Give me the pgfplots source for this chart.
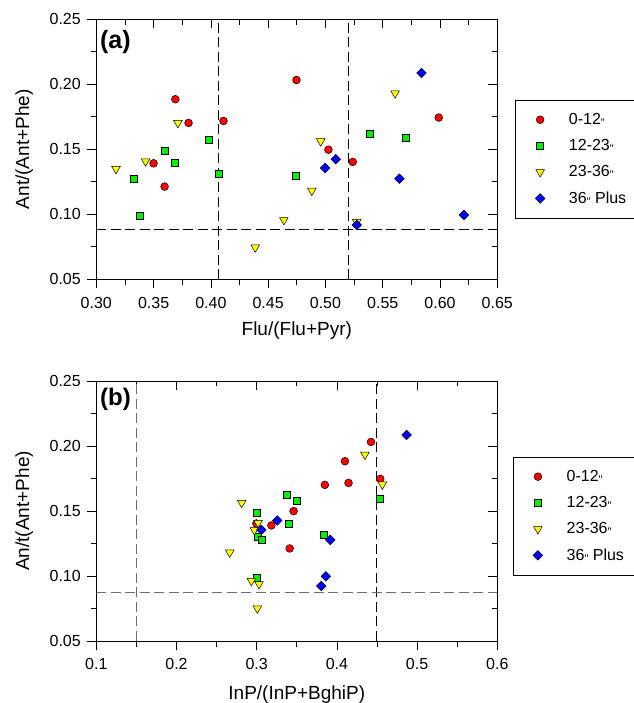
\documentclass[border=0pt]{standalone}
\usepackage{pgfplots}
\pgfplotsset{compat=1.18}
\usepackage{fontspec}
\setmainfont{Liberation Sans}

\definecolor{cred}{RGB}{255,0,0}
\definecolor{cgreen}{RGB}{0,240,0}
\definecolor{cyellow}{RGB}{255,255,0}
\definecolor{cblue}{RGB}{0,0,255}
\definecolor{refgray}{RGB}{110,110,110}

\newcommand{\inch}{\raisebox{-2pt}{\fontsize{11}{11}\selectfont\textquotedbl}}

\pgfplotsset{
  panel/.style={
    scale only axis, width=401pt, height=260pt,
    axis line style={line width=0.8pt},
    every tick/.style={black, line width=0.7pt},
    major tick length=9pt, minor tick length=5.5pt,
    minor tick num=1,
    tick label style={font=\fontsize{16}{16}\selectfont},
    label style={font=\fontsize{19}{19}\selectfont},
    /pgf/number format/assume math mode=true,
  },
  inner/.style={panel, tick align=inside, xtick pos=upper, ytick pos=right,
    xticklabels={}, yticklabels={}},
  s0/.style={only marks, mark=*, mark size=3.9pt,
    mark options={fill=cred, draw=black, line width=0.5pt}},
  s1/.style={only marks, mark=square*, mark size=3.5pt,
    mark options={fill=cgreen, draw=black, line width=0.5pt}},
  s2/.style={only marks, mark=triangle*, mark size=5pt,
    mark options={fill=cyellow, draw=black, line width=0.5pt, rotate=180}},
  s3/.style={only marks, mark=square*, mark size=3.4pt,
    mark options={fill=cblue, draw=black, line width=0.5pt, rotate=45}},
  refl/.style={forget plot, line width=0.9pt, dash pattern=on 10pt off 4.5pt},
  leg/.style={legend style={at={(axis description cs:#1)}, anchor=north west,
    draw=black, line width=0.8pt, font=\fontsize{16}{16}\selectfont,
    inner xsep=20pt, inner ysep=11pt, row sep=9.5pt,
    /tikz/every odd column/.append style={column sep=22pt}},
    legend cell align=left},
}

\begin{document}
\begin{tikzpicture}
\useasboundingbox (0,0) rectangle (633pt,703pt);

% ---------- (a) ----------
\begin{axis}[inner, at={(96.3pt,423.7pt)}, anchor=south west,
  xmin=0.30, xmax=0.65, ymin=0.05, ymax=0.25,
  xtick={0.30,0.35,...,0.65}, ytick={0.05,0.10,...,0.25}]
\end{axis}
\begin{axis}[panel, at={(96.3pt,423.7pt)}, anchor=south west,
  tick align=outside, xtick pos=lower, ytick pos=left,
  xmin=0.30, xmax=0.65, ymin=0.05, ymax=0.25,
  xtick={0.30,0.35,...,0.65}, ytick={0.05,0.10,...,0.25},
  xticklabel style={yshift=-5pt, /pgf/number format/.cd, fixed, fixed zerofill, precision=2},
  yticklabel style={xshift=-3pt, /pgf/number format/.cd, fixed, fixed zerofill, precision=2},
  xlabel={Flu/(Flu+Pyr)}, ylabel={Ant/(Ant+Phe)},
  xlabel style={at={(axis description cs:0.5,-0.218)}, anchor=base},
  ylabel style={at={(axis description cs:-0.18,0.5)}, anchor=center},
  leg={1.044,0.6896}]

  \addplot[refl] coordinates {(0.407,0.05) (0.407,0.25)};
  \addplot[refl] coordinates {(0.5203,0.05) (0.5203,0.25)};
  \addplot[refl] coordinates {(0.30,0.088) (0.65,0.088)};

  \addplot[s0] coordinates {
    (0.369,0.1885) (0.3805,0.1703) (0.411,0.1718) (0.350,0.1392) (0.3596,0.1213)
    (0.4747,0.2033) (0.5026,0.1497) (0.5238,0.1403) (0.5989,0.1744)};
  \addlegendentry{0-12\inch}
  \addplot[s1] coordinates {
    (0.3326,0.1272) (0.3381,0.0990) (0.3596,0.1485) (0.3683,0.1400) (0.3983,0.1577)
    (0.4067,0.1313) (0.4738,0.1300) (0.539,0.1623) (0.5703,0.1592)};
  \addlegendentry{12-23\inch}
  \addplot[s2] coordinates {
    (0.3172,0.1349) (0.343,0.1408) (0.3712,0.1703) (0.4959,0.1562) (0.4881,0.1182)
    (0.4637,0.0956) (0.4387,0.0746) (0.5273,0.0941) (0.5608,0.1931)};
  \addlegendentry{23-36\inch}
  \addplot[s3] coordinates {
    (0.4997,0.1356) (0.509,0.1423) (0.5273,0.0918) (0.5838,0.2087) (0.5646,0.1274)
    (0.6209,0.0995)};
  \addlegendentry{36\inch{} Plus}

  \node[anchor=north west, inner sep=0pt, font=\bfseries\fontsize{25}{25}\selectfont]
    at (axis description cs:0.009,0.959) {(a)};
\end{axis}

% ---------- (b) ----------
\begin{axis}[inner, at={(96.3pt,62pt)}, anchor=south west,
  xmin=0.1, xmax=0.6, ymin=0.05, ymax=0.25,
  xtick={0.1,0.2,...,0.6}, ytick={0.05,0.10,...,0.25}]
\end{axis}
\begin{axis}[panel, at={(96.3pt,62pt)}, anchor=south west,
  tick align=outside, xtick pos=lower, ytick pos=left,
  xmin=0.1, xmax=0.6, ymin=0.05, ymax=0.25,
  xtick={0.1,0.2,...,0.6}, ytick={0.05,0.10,...,0.25},
  xticklabel style={yshift=-5pt, /pgf/number format/.cd, fixed, fixed zerofill, precision=1},
  yticklabel style={xshift=-3pt, /pgf/number format/.cd, fixed, fixed zerofill, precision=2},
  xlabel={InP/(InP+BghiP)}, ylabel={An/t(Ant+Phe)},
  xlabel style={at={(axis description cs:0.5,-0.2267)}, anchor=base},
  ylabel style={at={(axis description cs:-0.18,0.5)}, anchor=center},
  leg={1.0384,0.708}]

  \addplot[refl, refgray] coordinates {(0.15,0.05) (0.15,0.25)};
  \addplot[refl] coordinates {(0.4487,0.05) (0.4487,0.25)};
  \addplot[refl, refgray] coordinates {(0.1,0.0876) (0.6,0.0876)};

  \addplot[s0] coordinates {
    (0.410,0.1883) (0.385,0.1701) (0.4145,0.1716) (0.346,0.1499) (0.3183,0.1389)
    (0.2996,0.1404) (0.3411,0.1212) (0.4425,0.2031) (0.4541,0.1747)};
  \addlegendentry{0-12\inch}
  \addplot[s1] coordinates {
    (0.3373,0.1624) (0.3498,0.1578) (0.3004,0.1486) (0.3402,0.1399) (0.3017,0.1302)
    (0.3066,0.1276) (0.383,0.1314) (0.2996,0.0989) (0.4537,0.1591)};
  \addlegendentry{12-23\inch}
  \addplot[s2] coordinates {
    (0.2813,0.1563) (0.2664,0.1181) (0.2934,0.0963) (0.3029,0.0938) (0.3008,0.0751)
    (0.3017,0.1409) (0.2971,0.1353) (0.435,0.1934) (0.4567,0.1704)};
  \addlegendentry{23-36\inch}
  \addplot[s3] coordinates {
    (0.3257,0.1427) (0.3058,0.1355) (0.3917,0.1278) (0.3863,0.0997) (0.3805,0.0923)
    (0.4869,0.2085)};
  \addlegendentry{36\inch{} Plus}

  \node[anchor=north west, inner sep=0pt, font=\bfseries\fontsize{24}{24}\selectfont]
    at (axis description cs:0.009,0.972) {(b)};
\end{axis}
\end{tikzpicture}
\end{document}
